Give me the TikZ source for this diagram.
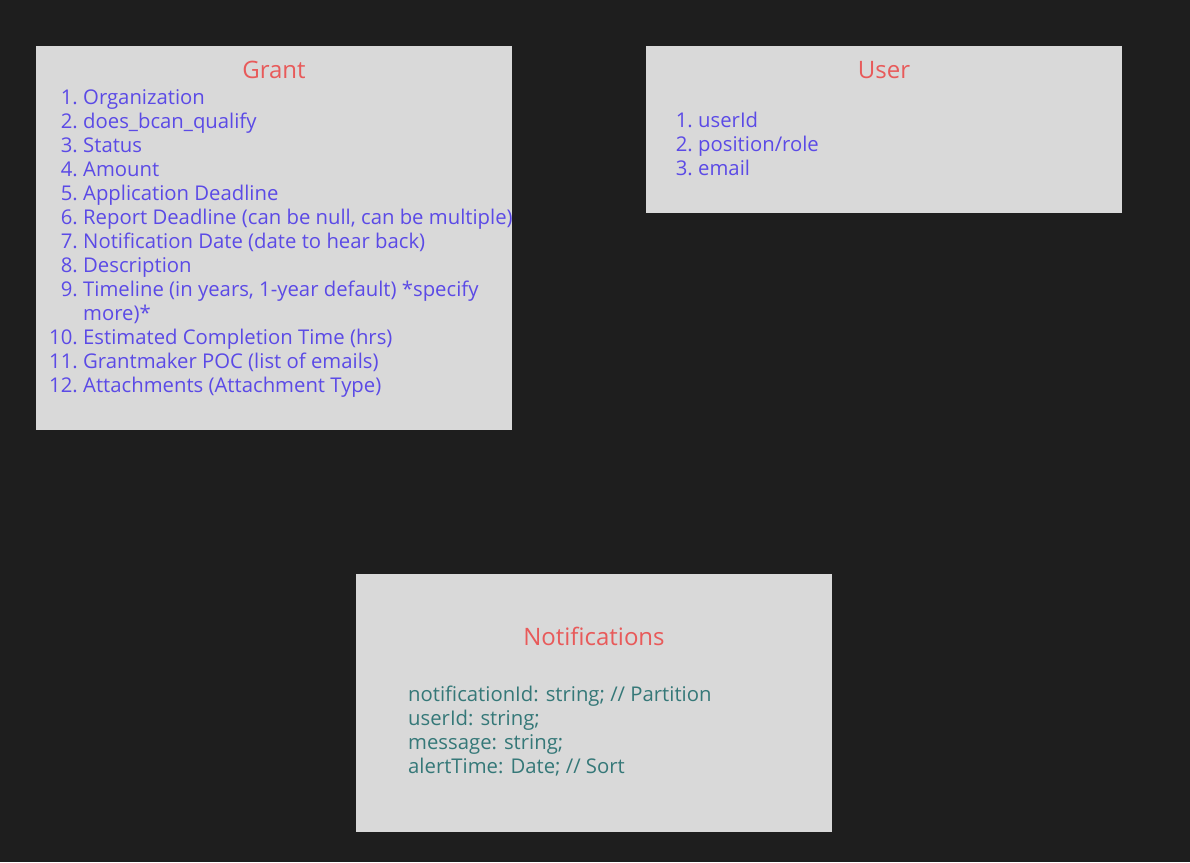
\documentclass[tikz,border=0pt]{standalone}
\usepackage{fontspec}
\setmainfont{Open Sans}
\definecolor{bgdark}{HTML}{1E1E1E}
\definecolor{boxgray}{HTML}{D9D9D9}
\definecolor{titlered}{HTML}{E85A5A}
\definecolor{listpurple}{HTML}{5B4AE6}
\definecolor{fieldteal}{HTML}{357878}
\begin{document}
\begin{tikzpicture}[x=1pt,y=-1pt,
  every node/.style={inner sep=0pt},
  title/.style={text=titlered,font=\fontsize{24}{28}\selectfont,anchor=base},
  num/.style={text=listpurple,font=\fontsize{20.3}{24}\selectfont,anchor=base east},
  item/.style={text=listpurple,font=\fontsize{20.3}{24}\selectfont,anchor=base west},
  field/.style={text=fieldteal,font=\fontsize{20.3}{24}\selectfont,anchor=base west}]
 \fill[bgdark](0,0) rectangle (1190,862);
 % boxes
 \fill[boxgray](36,46) rectangle (512,430);
 \fill[boxgray](646,46) rectangle (1122,213);
 \fill[boxgray](356,574) rectangle (832,832);
 % Grant
 \node[title] (grant) at (274,78) {Grant};
 \foreach \y/\n/\t [count=\i] in {104/1./{Organization}, 128/2./{does\_bcan\_qualify},
   152/3./{Status}, 176/4./{Amount}, 200/5./{Application Deadline},
   224/6./{Report Deadline (can be null, can be multiple)},
   248/7./{Notification Date (date to hear back)}, 272/8./{Description},
   296/9./{Timeline (in years, 1-year default) *specify}, 320//{more)*},
   344/10./{Estimated Completion Time (hrs)}, 368/11./{Grantmaker POC (list of emails)},
   392/12./{Attachments (Attachment Type)}}{
  \node[num] (gnum\i) at (78,\y) {\n};
  \node[item] (gitem\i) at (83,\y) {\t};
 }
 % User
 \node[title] (user) at (884,78) {User};
 \foreach \y/\n/\t [count=\i] in {127/1./{userId}, 151/2./{position/role}, 175/3./{email}}{
  \node[num] (unum\i) at (693,\y) {\n};
  \node[item] (uitem\i) at (698,\y) {\t};
 }
 % Notifications
 \node[title] (notif) at (594,645) {Notifications};
 \foreach \y/\t [count=\i] in {701/{notificationId: string; // Partition},
   725/{userId: string;}, 749/{message: string;}, 773/{alertTime: Date; // Sort}}{
  \node[field] (nfield\i) at (408,\y) {\t};
 }
\end{tikzpicture}
\end{document}
